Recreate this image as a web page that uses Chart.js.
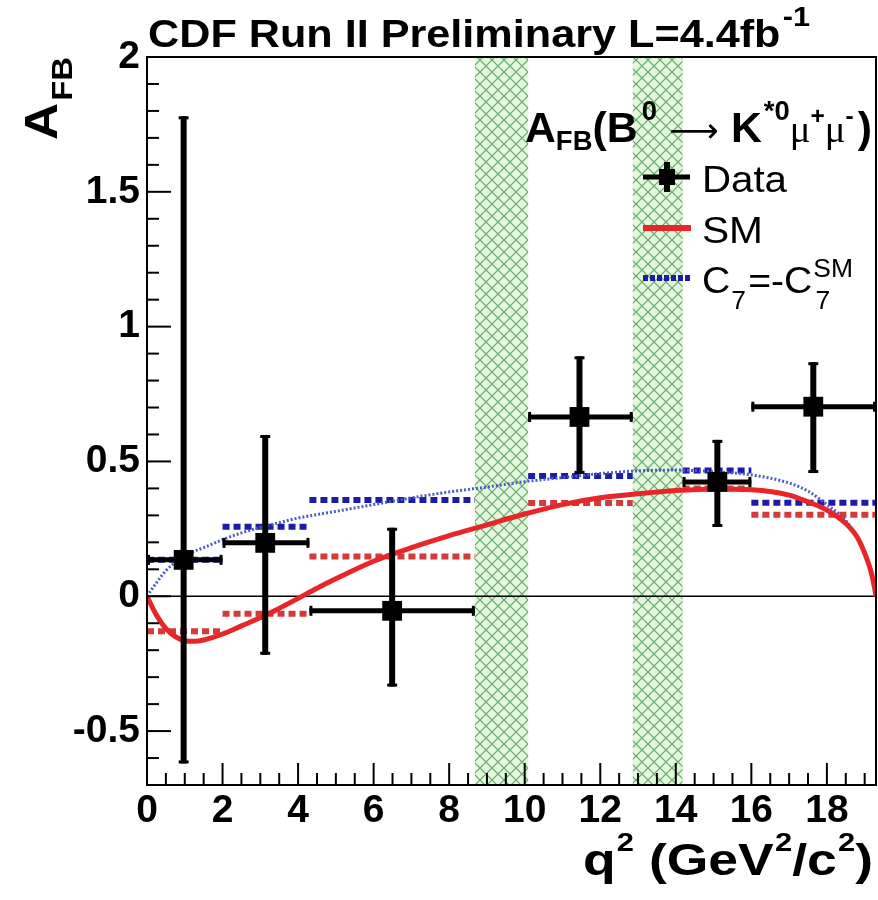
<!DOCTYPE html>
<html>
<head>
<meta charset="utf-8">
<title>AFB B0 to K*0 mu mu</title>
<script src="https://cdn.jsdelivr.net/npm/chart.js@4.4.0/dist/chart.umd.min.js"></script>
<style>
  body { margin: 0; background: #fff; }
  canvas { display: block; }
</style>
</head>
<body>
<canvas id="afbChart" width="878" height="900"></canvas>
<script>
// q^2 bins (GeV^2/c^2)
const binLo = [0, 2, 4.3, 10.09, 14.18, 16];
const binHi = [2, 4.3, 8.68, 12.86, 16, 19.3];

// measured A_FB with errors
const dataQ2 = [0.97, 3.13, 6.49, 11.45, 15.1, 17.64];
const dataAfb = [0.135, 0.198, -0.054, 0.665, 0.424, 0.703];
const errLo = [-0.62, -0.217, -0.335, 0.454, 0.257, 0.457];
const errHi = [1.78, 0.598, 0.254, 0.89, 0.58, 0.868];

// binned predictions
const smBinned = [-0.13, -0.065, 0.147, 0.346, 0.40, 0.302];
const c7Binned = [0.135, 0.258, 0.357, 0.446, 0.466, 0.347];

// theory curves
const curveQ2 = [0, 0.25, 0.5, 0.75, 1, 1.25, 1.5, 2, 2.5, 3, 3.5, 4, 4.5, 5, 6, 7, 8, 9, 10, 11, 12, 13, 14, 15, 16, 17, 17.5, 18, 18.5, 18.8, 19, 19.15, 19.25, 19.3];
const smCurve = [0, -0.07, -0.12, -0.15, -0.165, -0.167, -0.162, -0.14, -0.11, -0.08, -0.045, -0.008, 0.03, 0.065, 0.13, 0.18, 0.225, 0.265, 0.305, 0.34, 0.365, 0.38, 0.392, 0.398, 0.395, 0.375, 0.35, 0.32, 0.27, 0.22, 0.16, 0.1, 0.04, 0];
const c7Curve = [0, 0.05, 0.095, 0.125, 0.15, 0.167, 0.18, 0.21, 0.235, 0.255, 0.273, 0.29, 0.303, 0.315, 0.34, 0.365, 0.387, 0.405, 0.425, 0.44, 0.455, 0.465, 0.468, 0.462, 0.45, 0.42, 0.39, 0.34, 0.28, 0.22, 0.165, 0.1, 0.04, 0];

// vetoed charmonium regions
const vetoLo = [8.68, 12.86];
const vetoHi = [10.09, 14.18];

const xTicks = [0, 2, 4, 6, 8, 10, 12, 14, 16, 18];
const yTicks = [-0.5, 0, 0.5, 1, 1.5, 2];

const SANS = '"Liberation Sans", Arial, sans-serif';
const B = n => 'bold ' + n + 'px ' + SANS;
const R = n => n + 'px ' + SANS;

function binned(vals) {
  const pts = [];
  vals.forEach((v, i) => {
    pts.push({x: binLo[i], y: v}, {x: binHi[i], y: v}, {x: binHi[i], y: null});
  });
  return pts;
}

function hatch() {
  const c = document.createElement('canvas');
  c.width = c.height = 12;
  const g = c.getContext('2d');
  g.fillStyle = '#e3f6de';
  g.fillRect(0, 0, 12, 12);
  g.strokeStyle = '#64a864';
  g.lineWidth = 1.2;
  g.beginPath();
  g.moveTo(-2, -2); g.lineTo(14, 14);
  g.moveTo(-2, 14); g.lineTo(14, -2);
  g.stroke();
  return c;
}

function line(ctx, x1, y1, x2, y2) {
  ctx.beginPath(); ctx.moveTo(x1, y1); ctx.lineTo(x2, y2); ctx.stroke();
}

// draws text runs (sub/superscripts) squeezed to a given width
function drawRuns(ctx, x, y, runs, width) {
  let total = 0;
  runs.forEach(r => {
    ctx.font = r.f;
    r.w = ctx.measureText(r.t).width;
    if (r.adv !== false) total += r.w + (r.gap || 0);
  });
  const k = width ? width / total : 1.1;
  ctx.save();
  ctx.translate(x, y);
  ctx.scale(k, 1);
  ctx.textBaseline = 'alphabetic';
  ctx.textAlign = 'left';
  let cx = 0;
  runs.forEach(r => {
    ctx.font = r.f;
    ctx.fillText(r.t, cx + (r.gap || 0), r.dy || 0);
    if (r.adv !== false) cx += r.w + (r.gap || 0);
  });
  ctx.restore();
}

const decor = {
  id: 'decor',
  beforeDatasetsDraw(chart) {
    const {ctx, chartArea: a, scales: {x, y}} = chart;
    ctx.save();
    ctx.fillStyle = ctx.createPattern(hatch(), 'repeat');
    vetoLo.forEach((lo, i) => {
      const l = x.getPixelForValue(lo), r = x.getPixelForValue(vetoHi[i]);
      ctx.fillRect(l, a.top, r - l, a.bottom - a.top);
    });
    const y0 = y.getPixelForValue(0);
    ctx.strokeStyle = '#000';
    ctx.lineWidth = 1.5;
    line(ctx, a.left, y0, a.right, y0);
    ctx.restore();
  },
  afterDraw(chart) {
    const {ctx, chartArea: a, scales: {x, y}} = chart;
    ctx.save();
    ctx.strokeStyle = '#000';
    ctx.fillStyle = '#000';
    ctx.lineCap = 'butt';

    // error bars
    dataQ2.forEach((q, i) => {
      const px = x.getPixelForValue(q), py = y.getPixelForValue(dataAfb[i]);
      const l = x.getPixelForValue(binLo[i]), r = x.getPixelForValue(binHi[i]);
      const t = y.getPixelForValue(errHi[i]), b = y.getPixelForValue(errLo[i]);
      ctx.lineWidth = 5; line(ctx, l, py, r, py);
      ctx.lineWidth = 6; line(ctx, px, t, px, b);
      ctx.lineWidth = 3;
      line(ctx, l + 1.5, py - 5, l + 1.5, py + 5);
      line(ctx, r - 1.5, py - 5, r - 1.5, py + 5);
      line(ctx, px - 5, t + 1.5, px + 5, t + 1.5);
      line(ctx, px - 5, b - 1.5, px + 5, b - 1.5);
    });

    // frame and inward ticks
    ctx.lineWidth = 2;
    ctx.strokeRect(a.left, a.top, a.right - a.left, a.bottom - a.top);
    for (let k = -7; k <= 20; k++) {
      const yy = y.getPixelForValue(k / 10);
      line(ctx, a.left, yy, a.left + (k % 5 === 0 ? 24 : 12), yy);
    }
    for (let k = 0; k <= 38; k++) {
      const xx = x.getPixelForValue(k / 2);
      line(ctx, xx, a.bottom, xx, a.bottom - (k % 4 === 0 ? 22 : 12));
    }

    // title
    drawRuns(ctx, 148, 47, [
      {t: 'CDF Run II Preliminary L=4.4fb', f: B(38)},
      {t: '-1', f: B(27), dy: -21, gap: 2}
    ], 662);

    // axis titles
    drawRuns(ctx, 583, 875, [
      {t: 'q', f: B(45)}, {t: '2', f: B(26), dy: -24, gap: 1},
      {t: ' (GeV', f: B(45)}, {t: '2', f: B(26), dy: -24, gap: 1},
      {t: '/c', f: B(45)}, {t: '2', f: B(26), dy: -24, gap: 1},
      {t: ')', f: B(45)}
    ], 290);
    ctx.save();
    ctx.translate(57, 140);
    ctx.rotate(-Math.PI / 2);
    drawRuns(ctx, 0, 0, [
      {t: 'A', f: B(47)}, {t: 'FB', f: B(30), dy: 15, gap: 2}
    ], 83);
    ctx.restore();

    // legend header
    drawRuns(ctx, 525, 142, [
      {t: 'A', f: B(42)}, {t: 'FB', f: B(27), dy: 8},
      {t: '(B', f: B(42)}, {t: '0', f: B(27), dy: -22, gap: 4},
      {t: '\u27f6', f: '34px "DejaVu Sans", sans-serif', gap: 12},
      {t: 'K', f: B(42), gap: 12}, {t: '*0', f: B(27), dy: -22, gap: 2},
      {t: '\u03bc', f: '38px "Liberation Serif", serif'},
      {t: '+', f: B(24), dy: -18},
      {t: '\u03bc', f: '38px "Liberation Serif", serif'},
      {t: '-', f: B(24), dy: -18},
      {t: ')', f: B(42), gap: 4}
    ], 347);

    // legend entries
    ctx.lineWidth = 5;
    line(ctx, 643, 177, 690, 177);
    ctx.lineWidth = 6;
    line(ctx, 667, 162, 667, 192);
    ctx.fillRect(659, 169, 16, 16);
    drawRuns(ctx, 702, 192, [{t: 'Data', f: R(37)}], 85);

    ctx.strokeStyle = '#e8262a';
    ctx.lineWidth = 6;
    line(ctx, 643, 228, 691, 228);
    drawRuns(ctx, 702, 243, [{t: 'SM', f: R(37)}], 61);

    ctx.strokeStyle = '#1c1ca8';
    ctx.setLineDash([5, 2]);
    line(ctx, 643, 278, 691, 278);
    ctx.setLineDash([]);
    drawRuns(ctx, 702, 293, [
      {t: 'C', f: R(37)}, {t: '7', f: R(25), dy: 16, gap: 1},
      {t: '=-C', f: R(37), gap: 2},
      {t: '7', f: R(25), dy: 16, adv: false, gap: 3},
      {t: 'SM', f: R(25), dy: -16, gap: 1}
    ], 151);

    ctx.restore();
  }
};

new Chart(document.getElementById('afbChart'), {
  type: 'scatter',
  data: {
    datasets: [{
      label: 'Data',
      data: dataQ2.map((q, i) => ({x: q, y: dataAfb[i]})),
      pointStyle: 'rect',
      pointRadius: 14,
      backgroundColor: '#000',
      borderColor: '#000',
      borderWidth: 0
    }, {
      label: 'SM',
      data: curveQ2.map((q, i) => ({x: q, y: smCurve[i]})),
      showLine: true,
      borderColor: '#e8262a',
      borderWidth: 5,
      pointRadius: 0,
      cubicInterpolationMode: 'monotone'
    }, {
      label: 'C7 = -C7 SM',
      data: curveQ2.map((q, i) => ({x: q, y: c7Curve[i]})),
      showLine: true,
      borderColor: '#4a5cc8',
      borderWidth: 3,
      borderDash: [2, 2],
      pointRadius: 0,
      cubicInterpolationMode: 'monotone'
    }, {
      label: 'SM binned',
      data: binned(smBinned),
      showLine: true,
      spanGaps: false,
      borderColor: '#d43a3a',
      borderWidth: 6,
      borderDash: [7, 4],
      pointRadius: 0
    }, {
      label: 'C7 binned',
      data: binned(c7Binned),
      showLine: true,
      spanGaps: false,
      borderColor: '#1c1ca8',
      borderWidth: 6,
      borderDash: [7, 4],
      pointRadius: 0
    }]
  },
  options: {
    responsive: false,
    animation: false,
    events: [],
    layout: { autoPadding: false, padding: { top: 57, right: 2, left: 0, bottom: 0 } },
    plugins: {
      legend: { display: false },
      tooltip: { enabled: false }
    },
    scales: {
      x: {
        type: 'linear',
        min: 0,
        max: 19.3,
        afterFit: s => { s.height = 115; s.paddingLeft = 0; s.paddingRight = 0; },
        afterBuildTicks: s => { s.ticks = xTicks.map(v => ({value: v})); },
        grid: { display: false, drawTicks: false },
        border: { display: false },
        ticks: {
          padding: 3,
          color: '#000',
          font: { family: SANS, size: 39, weight: 'bold' },
          maxRotation: 0,
          callback: v => String(v)
        }
      },
      y: {
        min: -0.7,
        max: 2.0,
        afterFit: s => { s.width = 147; s.paddingTop = 0; s.paddingBottom = 0; },
        afterBuildTicks: s => { s.ticks = yTicks.map(v => ({value: v})); },
        grid: { display: false, drawTicks: false },
        border: { display: false },
        ticks: {
          padding: 7,
          color: '#000',
          font: { family: SANS, size: 39, weight: 'bold' },
          callback: v => String(v)
        }
      }
    }
  },
  plugins: [decor]
});
</script>
</body>
</html>
